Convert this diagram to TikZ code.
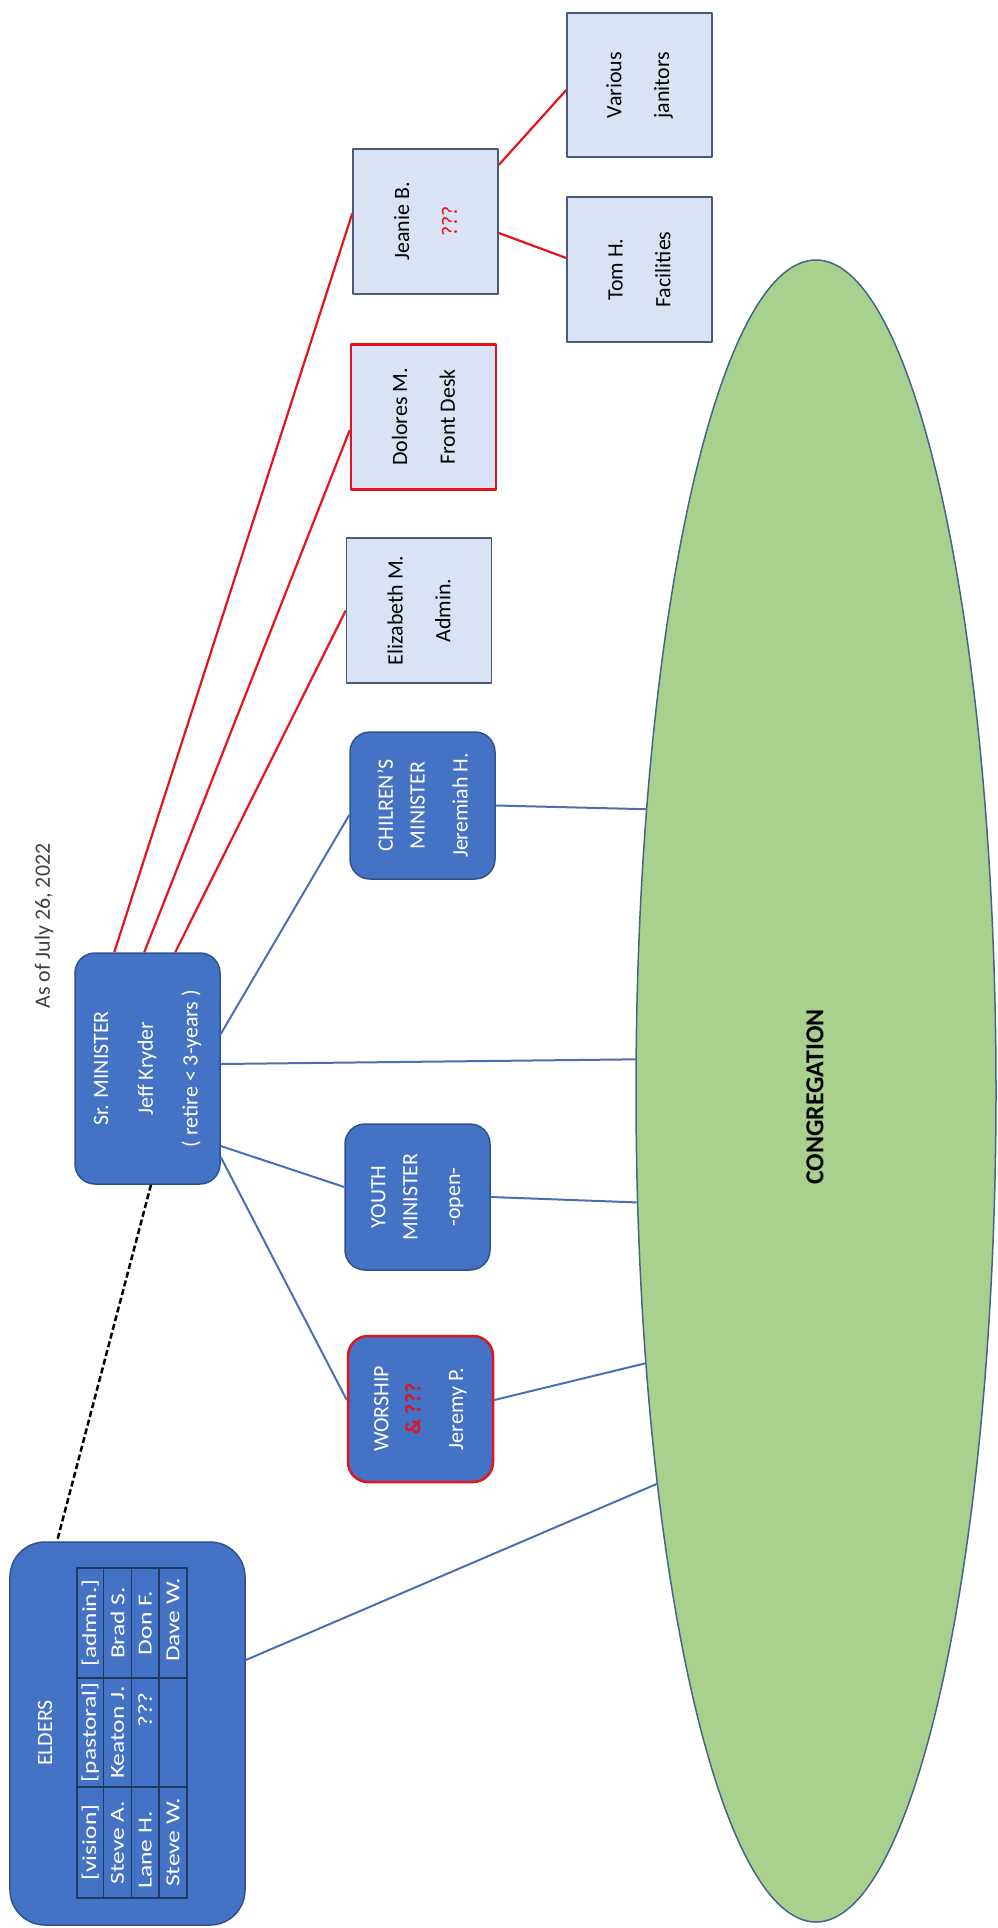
\documentclass[tikz,border=0pt]{standalone}
\usepackage{fontspec}
\setmainfont{Carlito}
\newfontfamily\tabfont[FakeStretch=1.28]{Carlito}
\usetikzlibrary{shapes.geometric}
\definecolor{boxblue}{HTML}{4472C4}
\definecolor{boxedge}{HTML}{2F528F}
\definecolor{paleblue}{HTML}{DAE3F3}
\definecolor{paleedge}{HTML}{4B5A78}
\definecolor{linkblue}{HTML}{4A6FB5}
\definecolor{linkred}{HTML}{E5131B}
\definecolor{flockgreen}{HTML}{A9D18E}
\definecolor{flockedge}{HTML}{44648A}
\definecolor{gridnavy}{HTML}{1F3864}
\definecolor{dategray}{HTML}{404040}
\begin{document}
\begin{tikzpicture}[x=1bp,y=-1bp,line join=bevel,
  mbox/.style={draw=boxedge,fill=boxblue,line width=1.5bp,rounded corners=20bp,rectangle,minimum width=145bp,minimum height=146bp,inner sep=0pt},
  sbox/.style={draw=paleedge,fill=paleblue,line width=1.5bp,rectangle,minimum width=145bp,minimum height=145bp,inner sep=0pt},
  redrim/.style={draw=linkred,line width=2.5bp},
  mtext/.style={rotate=90,align=center,text=white,font=\fontsize{22}{32}\selectfont},
  stext/.style={rotate=90,align=center,text=black,font=\fontsize{22}{48}\selectfont},
  cell/.style={rotate=90,text=white,inner sep=0pt,font=\tabfont\fontsize{20}{24}\selectfont},
  blueline/.style={draw=linkblue,line width=2bp},
  redline/.style={draw=linkred,line width=2.2bp},
  gridline/.style={draw=gridnavy,line width=1.5bp},
]
%%
\path [use as bounding box,clip] (0,0) rectangle (997,1928);
\node (flock) at (816,1091) [ellipse,draw=flockedge,fill=flockgreen,line width=1.5bp,minimum width=360bp,minimum height=1662bp,inner sep=0pt,outer sep=0pt] {};
  \node (flocktext) at (815,1097) [rotate=90,font=\fontsize{26}{30}\selectfont\bfseries] {CONGREGATION};
  \node (asof) at (44,926) [rotate=90,text=dategray,font=\fontsize{22}{26}\selectfont] {As of July 26, 2022};
  \node (sr) at (147.5,1068.5) [mbox,minimum height=231bp] {};
  \node (srtext) at (sr) [mtext,font=\fontsize{22}{45}\selectfont] {Sr. MINISTER\\Jeff Kryder\\( retire < 3-years )};
  \node (child) at (422.5,805.5) [mbox,minimum height=147bp] {};
  \node (childtext) at (child) [mtext] {CHILREN'S\\MINISTER\\[11bp]Jeremiah H.};
  \node (youth) at (417.5,1197) [mbox] {};
  \node (youthtext) at (youth) [mtext] {YOUTH\\MINISTER\\[11bp]-open-};
  \node (worship) at (420.5,1409) [mbox,redrim] {};
  \node (worshiptext) at (worship) [mtext] {WORSHIP\\\textcolor{linkred}{\bfseries\& ???}\\[11bp]Jeremy P.};
  \node (eliz) at (419,610.5) [sbox] {};
  \node (eliztext) at (eliz) [stext] {Elizabeth M.\\Admin.};
  \node (dolores) at (423.5,417) [sbox,redrim] {};
  \node (dolorestext) at (dolores) [stext] {Dolores M.\\Front Desk};
  \node (jeanie) at (425.5,221.5) [sbox] {};
  \node (jeanietext) at (jeanie) [stext] {Jeanie B.\\\textcolor{linkred}{???}};
  \node (various) at (639.5,85) [sbox,minimum height=144bp] {};
  \node (varioustext) at (various) [stext] {Various\\janitors};
  \node (tom) at (639.5,269.5) [sbox] {};
  \node (tomtext) at (tom) [stext] {Tom H.\\Facilities};
  \node (elders) at (127.5,1733.5) [mbox,minimum width=235bp,minimum height=383bp,rounded corners=35bp] {};
  \node (elderstext) at (45,1733) [mtext] {ELDERS};
%
  \draw [gridline] (77,1568) rectangle (187,1898);
  \draw [gridline] (103.5,1568) -- (103.5,1898);
  \draw [gridline] (131.5,1568) -- (131.5,1898);
  \draw [gridline] (159,1568) -- (159,1898);
  \draw [gridline] (77,1678) -- (187,1678);
  \draw [gridline] (77,1787) -- (187,1787);
  \node (vision) at (90.25,1842.5) [cell] {[vision]};
  \node (pastoral) at (90.25,1732.5) [cell] {[pastoral]};
  \node (admin) at (90.25,1623) [cell] {[admin.]};
  \node (stevea) at (117.5,1842.5) [cell] {Steve A.};
  \node (keaton) at (117.5,1732.5) [cell] {Keaton J.};
  \node (brad) at (117.5,1623) [cell] {Brad S.};
  \node (lane) at (145.25,1850) [cell] {Lane H.};
  \node (unknown) at (145.25,1710) [cell] {???};
  \node (don) at (145.25,1623) [cell] {Don F.};
  \node (stevew) at (173,1842.5) [cell] {Steve W.};
  \node (dave) at (173,1620) [cell] {Dave W.};
%
  \draw [redline] ([xshift=40bp]sr.north west) -- ([yshift=8bp]jeanie.west);
  \draw [redline] ([xshift=70bp]sr.north west) -- ([yshift=-13bp]dolores.west);
  \draw [redline] ([xshift=101bp]sr.north west) -- (eliz.west);
  \draw [redline] ([yshift=56.5bp]jeanie.east) -- ([yshift=-5bp]various.west);
  \draw [redline] ([yshift=-11.5bp]jeanie.east) -- ([yshift=11.5bp]tom.west);
  \draw [blueline] ([yshift=34.5bp]sr.east) -- ([yshift=-9.5bp]child.west);
  \draw [blueline] ([yshift=4.5bp]sr.east) -- (flock.170);
  \draw [blueline] ([yshift=-77.5bp]sr.east) -- ([yshift=10bp]youth.west);
  \draw [blueline] ([yshift=-88.5bp]sr.east) -- ([yshift=9bp]worship.west);
  \draw [blueline] (child.east) -- (flock.121);
  \draw [blueline] (youth.east) -- (flock.212);
  \draw [blueline] ([yshift=9bp]worship.east) -- (flock.238);
  \draw [blueline] ([yshift=73.5bp]elders.east) -- (flock.248);
  \draw [line width=2.5bp,dash pattern=on 6bp off 3bp] ([xshift=3.5bp]sr.south) -- ([xshift=-70.5bp]elders.north);
%
\end{tikzpicture}
\end{document}
